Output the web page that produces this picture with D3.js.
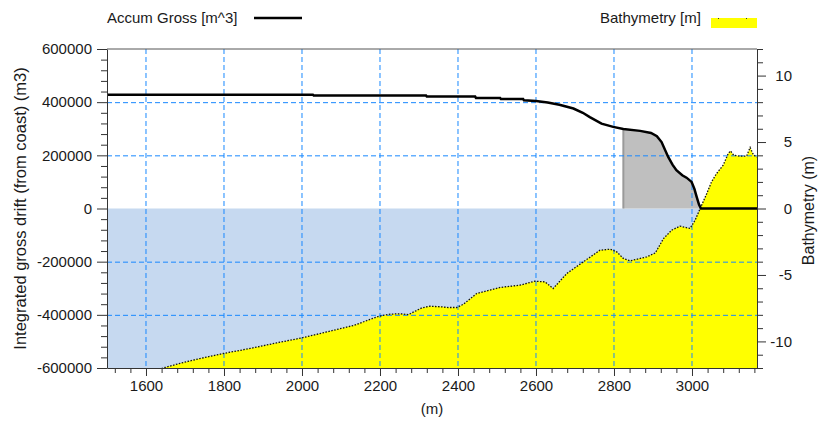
<!DOCTYPE html>
<html><head><meta charset="utf-8">
<script src="https://cdn.jsdelivr.net/npm/d3@7"></script>
<style>
body{margin:0;background:#fff}
text{font-family:"Liberation Sans",Arial,sans-serif;fill:#1a1a1a}
</style>
</head><body>
<svg id="c" width="820" height="423"></svg>
<script>
// ---- data ----
const grossDist = [1500,2028,2030,2318,2320,2444,2446,2508,2510,2567,2569,2600,2630,2660,2696,2720,2738,2768,2798,2824,2867,2895,2910,2922,2939,2950,2960,2975,2986,2999,3006,3012,3018,3023,3167];
const grossVol  = [428000,428000,425000,425000,421000,421000,416000,416000,412000,412000,407000,404000,399000,390000,376000,360000,344000,319000,307000,299000,292000,284000,272000,250000,194000,165000,144000,125000,116000,100000,75000,44000,15000,0,0];
const bathyDist  = [1500,1649,1691,1738,1798,1867,1935,1999,2063,2132,2198,2226,2250,2273,2290,2307,2328,2358,2375,2397,2414,2448,2508,2559,2597,2623,2644,2679,2721,2764,2790,2807,2824,2841,2884,2906,2927,2948,2969,2995,3008,3021,3038,3050,3063,3080,3093,3099,3107,3123,3140,3149,3158,3167];
const bathyDepth = [-13.3,-11.96,-11.62,-11.29,-10.91,-10.53,-10.11,-9.74,-9.29,-8.80,-8.10,-7.95,-7.92,-7.98,-7.73,-7.48,-7.35,-7.40,-7.45,-7.45,-7.20,-6.40,-5.94,-5.77,-5.47,-5.52,-6.02,-4.89,-4.02,-3.14,-3.06,-3.26,-3.76,-3.94,-3.64,-3.34,-2.26,-1.63,-1.33,-1.50,-0.88,0,1.13,2.00,2.63,3.26,4.14,4.33,4.01,3.94,3.94,4.59,4.01,3.88];
const shadeStart = 2824;
const xMajorTicks = [1600,1800,2000,2200,2400,2600,2800,3000];
const yLeftMajorTicks = [-600000,-400000,-200000,0,200000,400000,600000];
const yRightMajorTicks = [-10,-5,0,5,10];
const xDomain = [1500,3166.7];
const yLeftDomain = [-600000,600000];
const yRightDomain = [-12,12];

// ---- layout ----
const L=107,R=757,T=49,B=368;
const svg=d3.select("#c");
const x=d3.scaleLinear().domain(xDomain).range([L,R]);
const yL=d3.scaleLinear().domain(yLeftDomain).range([B,T]);
const yR=d3.scaleLinear().domain(yRightDomain).range([B,T]);
const fmt=d=>String(d);

svg.append("defs").append("clipPath").attr("id","pc")
  .append("rect").attr("x",L).attr("y",T).attr("width",R-L).attr("height",B-T);
const g=svg.append("g").attr("clip-path","url(#pc)");

// water fill
g.append("rect").attr("x",x(xDomain[0])).attr("y",yL(0))
  .attr("width",x(xDomain[1])-x(xDomain[0])).attr("height",yL(yLeftDomain[0])-yL(0))
  .attr("fill","#c6d9f0");

const bathy=bathyDist.map((d,i)=>[d,bathyDepth[i]]);
const gross=grossDist.map((d,i)=>[d,grossVol[i]]);

// bathymetry fill
g.append("path").datum(bathy)
  .attr("d",d3.area().x(d=>x(d[0])).y0(B).y1(d=>yR(d[1])))
  .attr("fill","#ffff00");

// shaded gross area
const shade=gross.filter(d=>d[0]>=shadeStart && (d[1]>0 || d[0]<=3023));
g.append("path").datum(shade)
  .attr("d",d3.area().x(d=>x(d[0])).y0(yL(0)).y1(d=>yL(d[1])))
  .attr("fill","#bfbfbf");
g.append("line").attr("x1",x(shadeStart)).attr("x2",x(shadeStart))
  .attr("y1",yL(0)).attr("y2",yL(shade[0][1]))
  .attr("stroke","#9a9a9a").attr("stroke-width",2);

// grid
const gridC="#1888ff";
g.selectAll(".gx").data(xMajorTicks).join("line")
  .attr("x1",d=>x(d)).attr("x2",d=>x(d)).attr("y1",T).attr("y2",B)
  .attr("stroke",gridC).attr("stroke-dasharray","5,3");
g.selectAll(".gy").data(yLeftMajorTicks.filter(d=>d!==0&&Math.abs(d)<600000)).join("line")
  .attr("x1",L).attr("x2",R).attr("y1",d=>yL(d)+0.5).attr("y2",d=>yL(d)+0.5)
  .attr("stroke",gridC).attr("stroke-dasharray","5,3");

// bathymetry line (dotted)
g.append("path").datum(bathy)
  .attr("d",d3.line().x(d=>x(d[0])).y(d=>yR(d[1])))
  .attr("fill","none").attr("stroke","#111").attr("stroke-width",1.3)
  .attr("stroke-dasharray","1.5,1.5");

// gross line
g.append("path").datum(gross)
  .attr("d",d3.line().x(d=>x(d[0])).y(d=>yL(d[1])))
  .attr("fill","none").attr("stroke","#000").attr("stroke-width",2.5);

// ---- axes ----
const axC="#333";
function styleAxis(sel){
  sel.select(".domain").attr("stroke",axC);
  sel.selectAll(".tick line").attr("stroke",axC);
  sel.selectAll("text").attr("font-size","15px").attr("fill","#1a1a1a")
     .style("font-family",'"Liberation Sans",Arial,sans-serif');
}
const xMinor=d3.range(1520,3167,40).filter(v=>v%200!==0);
const yLMinor=d3.range(-600000,600001,40000).filter(v=>v%200000!==0);
const yRMinor=d3.range(-12,13,1).filter(v=>v%5!==0);

// bottom
svg.append("g").attr("transform",`translate(0,${B})`)
  .call(d3.axisBottom(x).tickValues(xMinor).tickSize(5).tickFormat("").tickSizeOuter(0))
  .call(s=>s.select(".domain").remove()).call(styleAxis);
svg.append("g").attr("transform",`translate(0,${B})`)
  .call(d3.axisBottom(x).tickValues(xMajorTicks).tickSize(8).tickPadding(4).tickFormat(fmt).tickSizeOuter(0))
  .call(styleAxis);
// left
svg.append("g").attr("transform",`translate(${L},0)`)
  .call(d3.axisLeft(yL).tickValues(yLMinor).tickSize(6).tickFormat("").tickSizeOuter(0))
  .call(s=>s.select(".domain").remove()).call(styleAxis);
svg.append("g").attr("transform",`translate(${L},0)`)
  .call(d3.axisLeft(yL).tickValues(yLeftMajorTicks).tickSize(10).tickPadding(5).tickFormat(fmt).tickSizeOuter(0))
  .call(styleAxis);
// right
svg.append("g").attr("transform",`translate(${R},0)`)
  .call(d3.axisRight(yR).tickValues(yRMinor).tickSize(6).tickFormat("").tickSizeOuter(0))
  .call(s=>s.select(".domain").remove()).call(styleAxis);
const rAx=svg.append("g").attr("transform",`translate(${R},0)`)
  .call(d3.axisRight(yR).tickValues(yRightMajorTicks).tickSize(9).tickFormat(fmt).tickSizeOuter(0))
  .call(styleAxis);
rAx.selectAll("text").attr("text-anchor","end").attr("x",35);
// top border
svg.append("line").attr("x1",L).attr("x2",R).attr("y1",T).attr("y2",T).attr("stroke","#555");

// axis titles
svg.append("text").attr("x",x((xDomain[0]+xDomain[1])/2)).attr("y",414)
  .attr("text-anchor","middle").attr("font-size","15px").text("(m)");
svg.append("text").attr("transform",`translate(26,${(T+B)/2}) rotate(-90)`)
  .attr("text-anchor","middle").attr("font-size","16.5px").text("Integrated gross drift (from coast) (m3)");
svg.append("text").attr("transform",`translate(814,${(T+B)/2+2}) rotate(-90)`)
  .attr("text-anchor","middle").attr("font-size","16px").text("Bathymetry (m)");

// legend
svg.append("text").attr("x",107).attr("y",23).attr("font-size","15px").text("Accum Gross [m^3]");
svg.append("line").attr("x1",254).attr("x2",302).attr("y1",18).attr("y2",18)
  .attr("stroke","#000").attr("stroke-width",2.5);
svg.append("text").attr("x",600).attr("y",23).attr("font-size","15px").text("Bathymetry [m]");
svg.append("rect").attr("x",711).attr("y",18).attr("width",46).attr("height",10).attr("fill","#ffff00");
svg.append("line").attr("x1",711).attr("x2",757).attr("y1",18.5).attr("y2",18.5)
  .attr("stroke","#333").attr("stroke-dasharray","1,27").attr("stroke-dashoffset",-7);
</script>
</body></html>
